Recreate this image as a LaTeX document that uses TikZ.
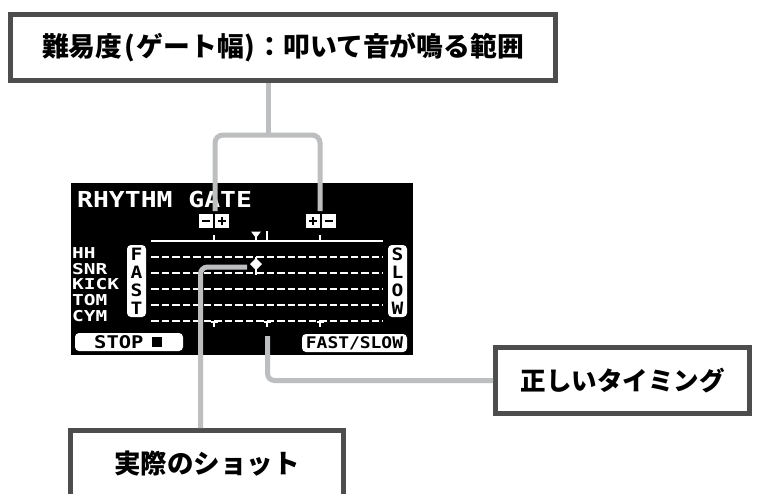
\documentclass[tikz,border=0pt]{standalone}
\usepackage{fontspec}
\usepackage{graphicx}
\newfontfamily\jp{Noto Sans CJK JP}
\newfontfamily\lcdfont{DejaVu Sans Mono Bold}
\definecolor{boxline}{HTML}{4D4D4D}
\definecolor{conncol}{HTML}{BCBEC0}
\tikzset{
  labelbox/.style={draw=boxline, line width=5pt, fill=white, inner sep=0pt,
    font=\jp\bfseries},
  connline/.style={draw=conncol, line width=5pt},
  lcdtext/.style={text=white, inner sep=0pt, anchor=base west},
  lcdline/.style={draw=white, line width=2pt},
  dashrow/.style={draw=white, line width=2pt, dash pattern=on 7.5pt off 3pt},
  btn/.style={fill=white, rounded corners=4pt},
  keybox/.style={fill=white},
  keysym/.style={draw=black, line width=2pt}
}
\begin{document}
\begin{tikzpicture}[x=1pt,y=-1pt]
\useasboundingbox (0,0) rectangle (760,493);
\clip (0,0) rectangle (760,493);
\fill[white] (0,0) rectangle (760,493);

% LCD display
\node[fill=black, minimum width=342pt, minimum height=172pt, inner sep=0pt] (lcd) at (242,269) {};
\node[lcdtext, font=\lcdfont\fontsize{22}{22}\selectfont] (title) at (77,207) {\scalebox{1.2}[1]{RHYTHM GATE}};

% row labels
\foreach \lab/\yy [count=\i] in {HH/258, SNR/274, KICK/289.5, TOM/305, CYM/321}
  \node[lcdtext, font=\lcdfont\fontsize{15}{15}\selectfont] (row\i) at (72,\yy) {\scalebox{1.3}[1]{\lab}};

% top axis
\draw[lcdline] (151,241) -- (383,241);
\draw[lcdline] (214,241) -- (214,235);
\draw[lcdline] (320,241) -- (320,235);
\draw[lcdline] (267,241) -- (267,231);
\fill[white] (251,231.5) -- (261,231.5) -- (256,238) -- cycle;
\draw[white, line width=1.5pt] (256,236) -- (256,241);

% dashed rows
\foreach \yy in {257,273,289,305,321}
  \draw[dashrow] (151,\yy) -- (383,\yy);

% bottom ticks
\foreach \xx in {214,267,320}{
  \draw[white, line width=2pt] (\xx,321) -- (\xx,327);
  \draw[white, line width=2pt] (\xx-3.5,322) -- (\xx+3.5,322);
}

% shot marker
\fill[white] (256,258) -- (262,264) -- (256,270) -- (250,264) -- cycle;
\draw[white, line width=1.5pt] (256,256.5) -- (256,275);

% -/+ keys
\fill[keybox] (199,214) rectangle (213,228);
\draw[keysym] (202,221) -- (210,221);
\fill[keybox] (215,214) rectangle (229,228);
\draw[keysym] (218,221) -- (226,221) (222,217) -- (222,225);
\fill[keybox] (306,214) rectangle (320,228);
\draw[keysym] (309,221) -- (317,221) (313,217) -- (313,225);
\fill[keybox] (321.5,214) rectangle (335.5,228);
\draw[keysym] (324.5,221) -- (332.5,221);

% FAST / SLOW side labels
\fill[btn] (127,245) rectangle (146,317);
\fill[btn] (388,245) rectangle (407,317);
\foreach \ch/\yy in {F/254, A/272, S/290, T/308}
  \node[text=black, inner sep=0pt, font=\lcdfont\fontsize{17}{17}\selectfont] at (136.5,\yy) {\scalebox{1.15}[1]{\ch}};
\foreach \ch/\yy in {S/254, L/272, O/290, W/308}
  \node[text=black, inner sep=0pt, font=\lcdfont\fontsize{17}{17}\selectfont] at (397.5,\yy) {\scalebox{1.15}[1]{\ch}};

% buttons
\fill[btn] (75,333) rectangle (183,351);
\node[anchor=base west, inner sep=0pt, text=black, font=\lcdfont\fontsize{17.5}{17.5}\selectfont] (stop) at (94,348) {\scalebox{1.17}[1]{STOP}};
\fill[black] (152,337) rectangle (162,347);
\fill[btn] (302,334) rectangle (407,352);
\node[inner sep=0pt, text=black, font=\lcdfont\fontsize{16}{16}\selectfont] (fs) at (354.5,343) {\scalebox{1.12}[1]{FAST/SLOW}};

% callout boxes
\node[labelbox, minimum width=545pt, minimum height=66pt, font=\jp\bfseries\fontsize{26.8}{30}\selectfont] (gate) at (283,47.5) {難易度\hspace{1.5pt}(\hspace{2pt}ゲート幅\hspace{1pt})\hspace{1pt}：叩いて音が鳴る範囲};
\node[labelbox, minimum width=254pt, minimum height=66pt, font=\jp\bfseries\fontsize{25.5}{30}\selectfont] (timing) at (622.5,380.5) {正しいタイミング};
\node[labelbox, minimum width=273pt, minimum height=66pt, font=\jp\bfseries\fontsize{26.5}{30}\selectfont] (shot) at (207,463.5) {実際のショット};

% connectors
\coordinate (gL) at (215,211);
\coordinate (gR) at (320,211);
\coordinate (gM) at (268,135);
\draw[connline] (gate.south -| gM) -- (gM);
\draw[connline, rounded corners=8pt] (gL) |- (gM) -| (gR);

\coordinate (sm) at (247,267);
\draw[connline, rounded corners=7pt] (sm) -| ([xshift=-6.5pt]shot.north);

\coordinate (tm) at (267.5,336);
\draw[connline, rounded corners=7pt] (tm) |- (timing.west);
\end{tikzpicture}
\end{document}
